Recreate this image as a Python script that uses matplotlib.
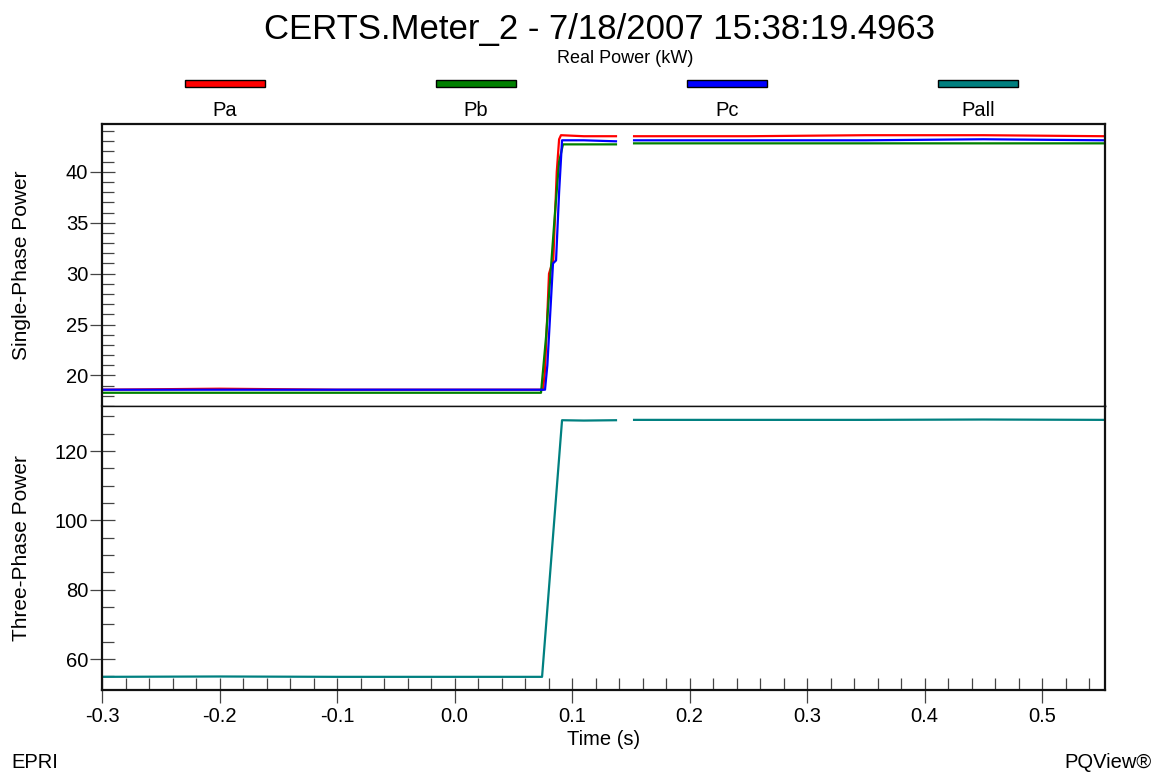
"""Real power step on CERTS meter 2: single-phase and three-phase panels."""
import numpy as np
import matplotlib.pyplot as plt
from matplotlib.patches import Rectangle
from matplotlib.ticker import MultipleLocator, FormatStrFormatter

plt.rcParams['font.family'] = ['Liberation Sans', 'DejaVu Sans']

nan = np.nan

# Breakpoints of each trace (time in s, power in kW); NaN marks the missing block
t_pa = [-0.3, -0.2, -0.1, 0.0, 0.0753, 0.0770, 0.0804, 0.0820, 0.0840, 0.0870,
        0.0890, 0.0906, 0.110, 0.1374, 0.145, 0.1528, 0.25, 0.35, 0.45, 0.553]
pa = [18.6, 18.7, 18.6, 18.6, 18.6, 20.5, 30.0, 30.6, 31.2, 40.0,
      43.2, 43.6, 43.5, 43.5, nan, 43.5, 43.5, 43.6, 43.6, 43.5]

t_pb = [-0.3, -0.2, -0.1, 0.0, 0.0736, 0.0779, 0.0820, 0.0855, 0.0890,
        0.0923, 0.110, 0.1374, 0.145, 0.1528, 0.25, 0.35, 0.45, 0.553]
pb = [18.3, 18.3, 18.3, 18.3, 18.3, 23.8, 30.5, 36.0, 41.0,
      42.7, 42.7, 42.7, nan, 42.8, 42.8, 42.8, 42.8, 42.8]

t_pc = [-0.3, -0.2, -0.1, 0.0, 0.0770, 0.0790, 0.0838, 0.0864, 0.0890,
        0.0915, 0.110, 0.1374, 0.145, 0.1528, 0.25, 0.35, 0.45, 0.553]
pc = [18.6, 18.6, 18.6, 18.6, 18.6, 21.0, 31.0, 31.3, 38.0,
      43.1, 43.1, 43.0, nan, 43.1, 43.1, 43.1, 43.2, 43.1]

t_pall = [-0.3, -0.2, -0.1, 0.0, 0.0745, 0.0915, 0.110, 0.1374, 0.145,
          0.1528, 0.25, 0.35, 0.45, 0.553]
pall = [54.9, 55.0, 54.9, 54.9, 54.9, 128.9, 128.8, 128.9, nan,
        129.0, 129.0, 129.0, 129.1, 129.0]

names = ['Pa', 'Pb', 'Pc', 'Pall']
colors = ['#ff0000', '#008000', '#0000ff', '#008080']

fig = plt.figure(figsize=(11.66, 7.76), dpi=100)
ax1 = fig.add_axes([0.0875, 0.4768, 0.8602, 0.3634])
ax2 = fig.add_axes([0.0875, 0.1108, 0.8602, 0.3660], sharex=ax1)

ax1.plot(t_pa, pa, color=colors[0], lw=1.6)
ax1.plot(t_pb, pb, color=colors[1], lw=1.6)
ax1.plot(t_pc, pc, color=colors[2], lw=1.6)
ax2.plot(t_pall, pall, color=colors[3], lw=1.6)

ax1.set_ylim(17.0, 44.7)
ax2.set_ylim(51.1, 133.0)
ax2.set_xlim(-0.3, 0.5536)

ax1.yaxis.set_major_locator(MultipleLocator(5))
ax1.yaxis.set_minor_locator(MultipleLocator(1))
ax2.yaxis.set_major_locator(MultipleLocator(20))
ax2.yaxis.set_minor_locator(MultipleLocator(5))
ax2.xaxis.set_major_locator(MultipleLocator(0.1))
ax2.xaxis.set_minor_locator(MultipleLocator(0.02))
ax2.xaxis.set_major_formatter(FormatStrFormatter('%.1f'))

for ax in (ax1, ax2):
    ax.tick_params(which='major', direction='inout', length=18, width=0.9,
                   color='#444444', labelsize=14.5, pad=1)
    ax.tick_params(which='minor', direction='in', length=8.5, width=0.9,
                   color='#444444')
    ax.tick_params(axis='y', which='both', right=False)
    ax.tick_params(axis='x', which='both', top=False)
    for side in ('left', 'right', 'top', 'bottom'):
        ax.spines[side].set_linewidth(1.6)
        ax.spines[side].set_color('#111111')

ax1.tick_params(axis='x', which='both', bottom=False, labelbottom=False)
ax2.tick_params(axis='x', which='major', pad=3)
ax1.spines['bottom'].set_linewidth(1.0)
ax2.spines['top'].set_linewidth(1.0)

ax1.set_ylabel('Single-Phase Power', fontsize=15)
ax2.set_ylabel('Three-Phase Power', fontsize=15)
ax1.yaxis.set_label_coords(-0.071, 0.5)
ax2.yaxis.set_label_coords(-0.071, 0.5)
ax2.set_xlabel('Time (s)', fontsize=14.5, labelpad=3)

# Titles
fig.text(0.514, 0.962, 'CERTS.Meter_2 - 7/18/2007 15:38:19.4963',
         ha='center', va='center', fontsize=25)
fig.text(0.536, 0.925, 'Real Power (kW)', ha='center', va='center',
         fontsize=13)

# Legend: colour swatches with labels underneath
for i, (name, col) in enumerate(zip(names, colors)):
    cx = (225 + 251 * i) / 1166
    fig.add_artist(Rectangle((cx - 40 / 1166, 1 - 87 / 776), 80 / 1166,
                             7 / 776, transform=fig.transFigure,
                             facecolor=col, edgecolor='black', lw=1))
    fig.text(cx, 1 - 110 / 776, name, ha='center', va='center', fontsize=14.5)

fig.text(11 / 1166, 1 - 763 / 776, 'EPRI', ha='left', va='center',
         fontsize=14.5)
fig.text(1152 / 1166, 1 - 763 / 776, 'PQView®', ha='right', va='center',
         fontsize=14.5)

fig.savefig('out.png', dpi=100)
